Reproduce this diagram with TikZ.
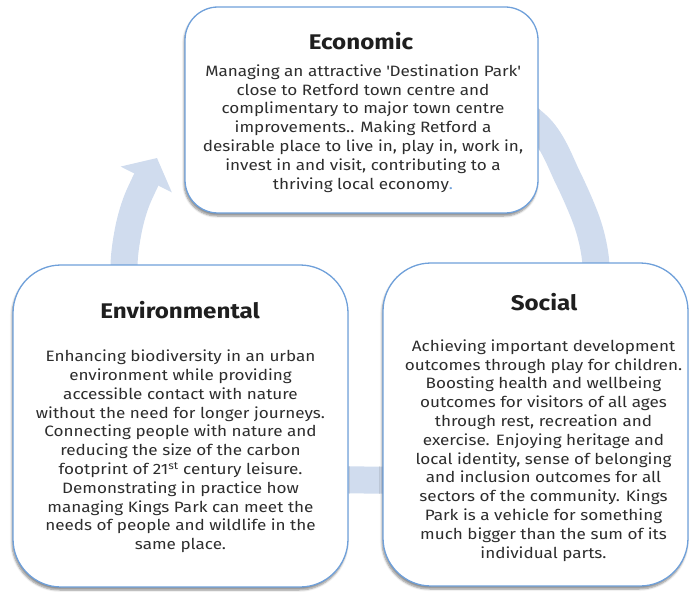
\documentclass[tikz,border=0pt]{standalone}
\usepackage{fontspec}
\setmainfont{Fira Sans}[FakeStretch=1.14]
\usetikzlibrary{positioning}
\usetikzlibrary{arrows.meta}
\usetikzlibrary{shadows.blur}
\definecolor{boxblue}{RGB}{111,160,218}
\definecolor{cycleblue}{RGB}{208,220,238}
\definecolor{textgrey}{RGB}{45,45,45}

\tikzset{
  pillar/.style={draw=boxblue, line width=1.3pt, fill=white, rounded corners=#1,
    blur shadow={shadow xshift=-1pt, shadow yshift=-3pt, shadow blur steps=6, shadow opacity=45}},
  pillar/.default=48pt,
  heading/.style={font=\fontsize{21.2}{26}\selectfont\bfseries, text=black!88, inner sep=0pt},
  blurb/.style={font=\fontsize{15}{18.8}\selectfont, text=textgrey, align=center, inner sep=0pt},
}

\begin{document}
\begin{tikzpicture}[x=1pt,y=-1pt]
        \useasboundingbox (0,0) rectangle (695,591);

        \draw[cycleblue, line width=27pt, -{Triangle[width=56pt,length=24pt]}]
          plot[smooth] coordinates {(470,75) (540,128) (568,178) (588,225) (596,265)
          (594,320) (570,395) (505,455) (420,477) (365,480) (300,476) (220,450)
          (160,395) (130,330) (124,270) (128,232) (137,200) (157,158)};

        \node[pillar=33pt, minimum width=353pt, minimum height=206pt] (eco) at (361.5,110) {};
        \node[pillar, minimum width=335pt, minimum height=322pt] (env) at (180.5,426) {};
        \node[pillar, minimum width=305pt, minimum height=323pt] (soc) at (535.5,424.5) {};

        \node[heading] (ecotitle) at (361,41) {Economic};
        \node[blurb] (ecotext) at (363,128.5) {Managing an attractive \textquotesingle Destination Park\textquotesingle\\
          close to Retford town centre  and\\
          complimentary to major town centre\\
          improvements.. Making Retford a\\
          desirable place to live in, play in, work in,\\
          invest in and visit, contributing to a\\
          thriving local economy{\color{boxblue}.}};

        \node[heading] (envtitle) at (180,310) {Environmental};
        \node[blurb] (envtext) at (180.5,451.5) {Enhancing biodiversity in an urban\\
          environment while providing\\
          accessible contact with nature\\
          without the need for longer journeys.\\
          Connecting people with nature and\\
          reducing the size of the carbon\\
          footprint of 21\textsuperscript{st} century leisure.\\
          Demonstrating in practice how\\
          managing Kings Park can meet the\\
          needs of people and wildlife in the\\
          same place.};

        \node[heading] (soctitle) at (544,302) {Social};
        \node[blurb] (soctext) at (543.5,450.5) {Achieving important development\\
          outcomes through play for children.\\
          Boosting health and wellbeing\\
          outcomes for visitors of all ages\\
          through rest, recreation and\\
          exercise. Enjoying heritage and\\
          local identity, sense of belonging\\
          and inclusion outcomes for all\\
          sectors of the community.  Kings\\
          Park is a vehicle for something\\
          much bigger than the sum of its\\
          individual parts.};
      \end{tikzpicture}
\end{document}
